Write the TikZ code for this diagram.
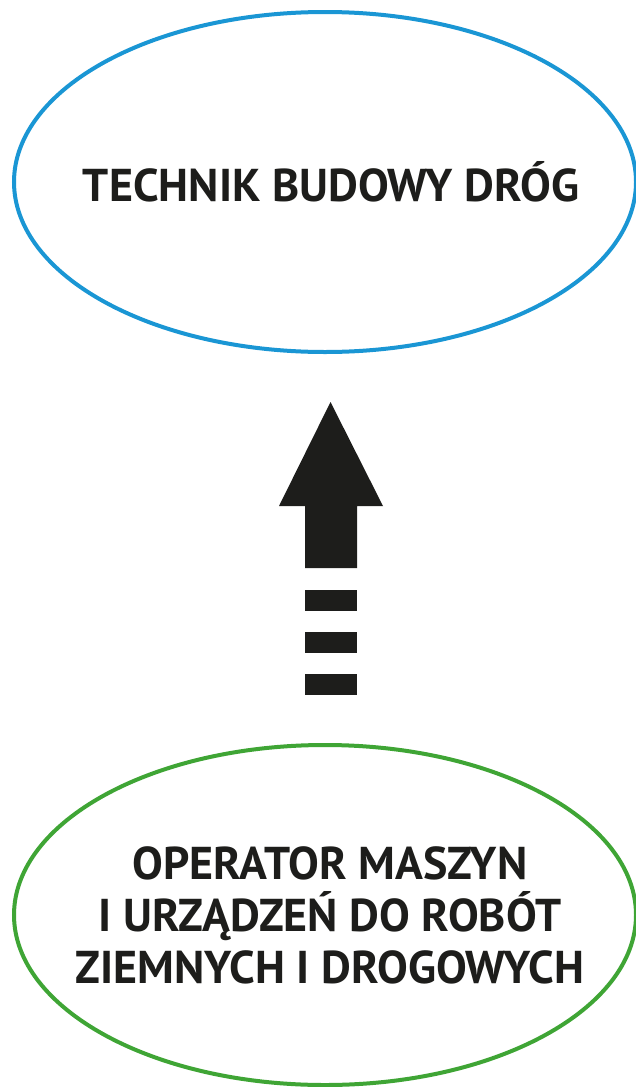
\documentclass[tikz,border=0pt]{standalone}
\usepackage{fontspec}
\setmainfont{PT Sans}
\usetikzlibrary{shapes.geometric,positioning}
\definecolor{techblue}{HTML}{1A96D4}
\definecolor{opgreen}{HTML}{3FA535}
\definecolor{inkblack}{HTML}{1D1D1B}
\tikzset{
    oval/.style     = {ellipse, line width=4pt, fill=white, inner sep=0pt,
                       minimum width=622pt, minimum height=340pt},
    techoval/.style = {oval, draw=techblue},
    opoval/.style   = {oval, draw=opgreen},
    ovaltext/.style = {align=center, text=inkblack, inner sep=0pt,
                       font=\fontsize{46}{52}\selectfont\bfseries},
    bigarrow/.style = {fill=inkblack, draw=none}
}

\begin{document}
\begin{tikzpicture}[x=1pt, y=-1pt]
    \useasboundingbox (0,0) rectangle (636,1087);

    % Ovals
    \node[techoval] (tech) at (325, 182) {};
    \node[ovaltext] (techtext) at ([xshift=6pt]tech.center) {TECHNIK BUDOWY DRÓG};
    \node[opoval]   (oper) at (325, 915) {};
    \node[ovaltext] (opertext) at ([xshift=5pt]oper.center) {OPERATOR MASZYN\\I URZĄDZEŃ DO ROBÓT\\ZIEMNYCH I DROGOWYCH};

    % Arrow from bottom to top
    \fill[bigarrow] (330.5,402) -- (383,506) -- (357,506) -- (357,568)
        -- (305,568) -- (305,506) -- (279,506) -- cycle;
    \foreach \dy in {590, 632, 674}
        \fill[bigarrow] (305,\dy) rectangle (357,\dy+21);

\end{tikzpicture}
\end{document}
